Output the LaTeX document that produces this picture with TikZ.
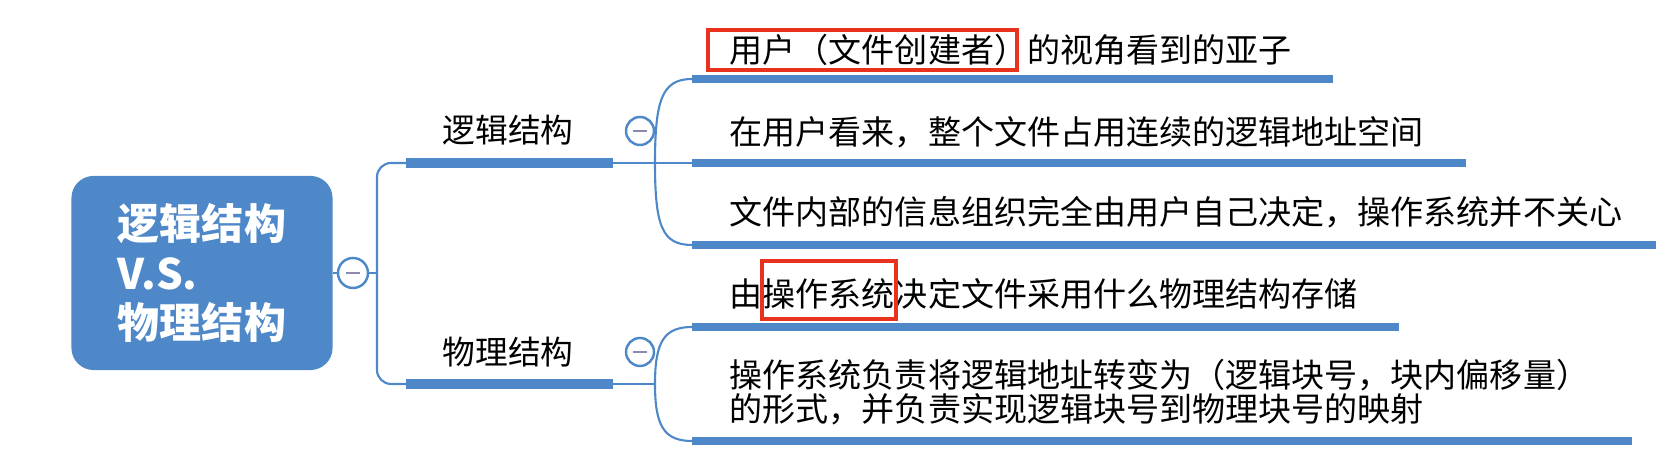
\documentclass[tikz,border=0pt]{standalone}
\usepackage{fontspec}
\newfontfamily\cjk{Noto Sans CJK SC}
\usetikzlibrary{positioning}
\definecolor{mapblue}{HTML}{4F88C8}
\definecolor{markred}{HTML}{E8321E}
\definecolor{minusgray}{HTML}{8A8AB0}

\begin{document}
\begin{tikzpicture}[x=0.01cm, y=-0.01cm,
  rootbox/.style={fill=mapblue, rounded corners=6.3pt, minimum width=2.61cm, minimum height=1.94cm,
    align=left, text=white, font=\cjk\bfseries\fontsize{11.95pt}{13.95pt}\selectfont},
  branch/.style={font=\cjk\fontsize{9.3pt}{9.7pt}\selectfont, inner sep=0pt},
  leaf/.style={anchor=west, align=left, inner sep=0pt, font=\cjk\fontsize{9.4pt}{9.7pt}\selectfont},
  collapse/.style={circle, draw=mapblue, fill=white, line width=0.7pt, minimum size=#1, inner sep=0pt,
    path picture={\draw[minusgray, line width=0.7pt]
      ([xshift=-0.65mm]path picture bounding box.center) -- ([xshift=0.65mm]path picture bounding box.center);}},
  collapse/.default=0.3cm,
  twig/.style={draw=mapblue, line width=0.6pt},
  branchbar/.style={draw=mapblue, line width=2.6pt},
  leafbar/.style={draw=mapblue, line width=2.3pt},
  redbox/.style={draw=markred, line width=0.9pt}
]
  \useasboundingbox (0,0) rectangle (1656,456);

  % root
  \node[rootbox] (root) at (202,273) {逻辑结构\\V.S.\\物理结构};

  % joints and bar ends
  \coordinate (rj) at (377,273);
  \coordinate (lbs) at (406,163);
  \coordinate (lbe) at (613,163);
  \coordinate (lj) at (655,163);
  \coordinate (pbs) at (406,384);
  \coordinate (pbe) at (613,384);
  \coordinate (pj) at (655,384);

  \coordinate (l1s) at (692,79);
  \coordinate (l1e) at (1333,79);
  \coordinate (l2s) at (692,163);
  \coordinate (l2e) at (1466,163);
  \coordinate (l3s) at (692,245);
  \coordinate (l3e) at (1656,245);
  \coordinate (p1s) at (692,327);
  \coordinate (p1e) at (1399,327);
  \coordinate (p2s) at (692,441);
  \coordinate (p2e) at (1632,441);

  % root to branches
  \draw[twig] (root.east) -- (rj);
  \draw[twig, rounded corners=4pt] (lbs) -| (rj) |- (pbs);
  \draw[branchbar] (lbs) -- (lbe);
  \draw[branchbar] (pbs) -- (pbe);

  % branch labels
  \node[branch] (logic) at (508,130) {逻辑结构};
  \node[branch] (phys) at (508,352) {物理结构};

  % logical leaves
  \draw[twig] (lj) .. controls (655,100) and (662,79) .. (l1s);
  \draw[twig] (lbe) -- (l2s);
  \draw[twig] (lj) .. controls (655,226) and (662,245) .. (l3s);
  \draw[leafbar] (l1s) -- (l1e);
  \draw[leafbar] (l2s) -- (l2e);
  \draw[leafbar] (l3s) -- (l3e);

  \node[leaf] (l1) at (729,50) {用户（文件创建者）的视角看到的亚子};
  \node[leaf] (l2) at (729,132) {在用户看来，整个文件占用连续的逻辑地址空间};
  \node[leaf] (l3) at (729,212) {文件内部的信息组织完全由用户自己决定，操作系统并不关心};

  % physical leaves
  \draw[twig] (pbe) -- (pj);
  \draw[twig] (pj) .. controls (655,342) and (664,327) .. (p1s);
  \draw[twig] (pj) .. controls (655,426) and (664,441) .. (p2s);
  \draw[leafbar] (p1s) -- (p1e);
  \draw[leafbar] (p2s) -- (p2e);

  \node[leaf] (p1) at (729,294) {由操作系统决定文件采用什么物理结构存储};
  \node[leaf] (p2) at (729,392) {操作系统负责将逻辑地址转变为（逻辑块号，块内偏移量）\\的形式，并负责实现逻辑块号到物理块号的映射};

  % highlights
  \draw[redbox] (708,30) rectangle (1017,70);
  \draw[redbox] (762,261) rectangle (896,319);

  % collapse buttons
  \node[collapse] (rootc) at (353,273) {};
  \node[collapse=0.28cm] (logicc) at (640,131) {};
  \node[collapse=0.28cm] (physc) at (640,352) {};

\end{tikzpicture}
\end{document}
